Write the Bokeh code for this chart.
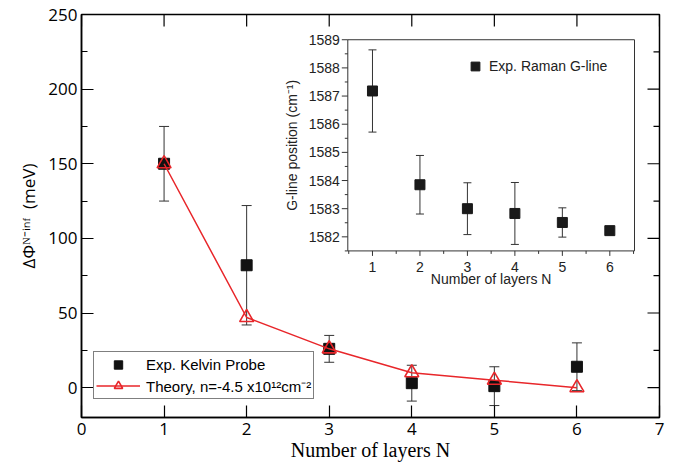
import numpy as np
from bokeh.plotting import figure
from bokeh.models import (ColumnDataSource, Whisker, TeeHead, Legend, LegendItem,
                          FixedTicker, Range1d)
from bokeh.core.properties import value
from bokeh.embed import file_html
from bokeh.resources import INLINE

# ---------------- data ----------------
layers = [1, 2, 3, 4, 5, 6]
kelvin_mev = [150, 82, 26, 3, 1, 14]
kelvin_err = [25, 40, 9, 12, 13, 16]
theory_mev = [150, 47, 26, 10, 5, 0]

raman_layers = [1, 2, 3, 4, 5, 6]
raman_pos = [1587.18, 1583.85, 1583.00, 1582.83, 1582.51, 1582.22]
raman_err = [1.46, 1.04, 0.92, 1.10, 0.52, 0.08]

main_xticks = [0, 1, 2, 3, 4, 5, 6, 7]
main_yticks = [0, 50, 100, 150, 200, 250]
main_yminor = [25, 75, 125, 175, 225]
inset_xticks = [1, 2, 3, 4, 5, 6]
inset_yticks = [1582, 1583, 1584, 1585, 1586, 1587, 1588, 1589]

# ---------------- layout ----------------
X0, X1 = 0, 7
Y0, Y1 = -20, 250
IX0, IX1 = 0.48, 6.52
IY0, IY1 = 1581.5, 1589.0
W, H = 673, 463
FL, FT, FW, FH = 81, 14, 578, 404          # frame position inside canvas

# inset box (canvas pixels): left, right, top, bottom
IL, IR, IT, IB = 347.3, 634.0, 39.3, 251.0
fx0 = (IL - FL) / FW
fx1 = (IR - FL) / FW
fy0 = (FT + FH - IB) / FH
fy1 = (FT + FH - IT) / FH
sx = (IX1 - IX0) / (fx1 - fx0)
sy = (IY1 - IY0) / (fy1 - fy0)
ix_start = IX0 - fx0 * sx
iy_start = IY0 - fy0 * sy
ipx_x = FW / sx   # pixels per inset x unit

RED = "#e8262a"
INK = "#111111"

p = figure(width=W, height=H, x_range=Range1d(X0, X1), y_range=Range1d(Y0, Y1),
           output_backend="svg", toolbar_location=None,
           min_border_left=FL, min_border_top=FT,
           min_border_right=W - FL - FW, min_border_bottom=H - FT - FH)
p.extra_x_ranges = {"ix": Range1d(ix_start, ix_start + sx)}
p.extra_y_ranges = {"iy": Range1d(iy_start, iy_start + sy)}
p.xgrid.visible = False
p.ygrid.visible = False
p.outline_line_color = "black"
p.outline_line_width = 1.5
p.background_fill_color = "white"
p.border_fill_color = "white"

xa = p.xaxis[0]
ya = p.yaxis[0]
xa.ticker = FixedTicker(ticks=main_xticks, minor_ticks=[])
ya.ticker = FixedTicker(ticks=main_yticks, minor_ticks=main_yminor)
for ax in (xa, ya):
    ax.axis_line_width = 1.5
    ax.axis_line_color = "black"
    ax.major_tick_in = 12
    ax.major_tick_out = 0
    ax.minor_tick_in = 6
    ax.minor_tick_out = 0
    ax.major_tick_line_width = 1.2
    ax.minor_tick_line_width = 1.2
    ax.major_tick_line_color = "black"
    ax.minor_tick_line_color = "black"
    ax.major_label_text_font = "Open Sans"
    ax.major_label_text_font_size = "17px"
    ax.major_label_text_color = "black"
    ax.axis_label_text_font_style = "normal"
    ax.axis_label_text_color = "black"
xa.major_label_standoff = 5
ya.major_label_standoff = 4
xa.axis_label = "Number of layers N"
xa.axis_label_text_font = "Liberation Serif"
xa.axis_label_text_font_size = "20px"
xa.axis_label_standoff = 1
ya.axis_label = "ΔΦᴺ⁻ⁱⁿᶠ\u00a0\u00a0(meV)"
ya.axis_label_text_font = "Open Sans"
ya.axis_label_text_font_size = "17px"
ya.axis_label_standoff = 5

# inward ticks on the right and top frame edges
RK = dict(length_units="screen", line_color="black", line_width=1.2)
p.ray(x=[X1] * len(main_yticks), y=main_yticks, length=12, angle=np.pi, **RK)
p.ray(x=[X1] * len(main_yminor), y=main_yminor, length=6, angle=np.pi, **RK)
p.ray(x=main_xticks, y=[Y1] * len(main_xticks), length=12, angle=-np.pi / 2, **RK)

# ---------------- main data ----------------
src_k = ColumnDataSource(dict(
    x=layers, y=kelvin_mev,
    upper=[v + e for v, e in zip(kelvin_mev, kelvin_err)],
    lower=[v - e for v, e in zip(kelvin_mev, kelvin_err)]))
p.add_layout(Whisker(base="x", upper="upper", lower="lower", source=src_k,
                     line_color="#333333", line_width=1,
                     upper_head=TeeHead(size=10, line_color="#333333", line_width=1),
                     lower_head=TeeHead(size=10, line_color="#333333", line_width=1)))
sq = p.scatter("x", "y", source=src_k, marker="square", size=11,
               fill_color=INK, line_color=INK)
th_line = p.line(layers, theory_mev, line_color=RED, line_width=1.5)
th_tri = p.scatter(layers, theory_mev, marker="triangle", size=14,
                   fill_color=None, line_color=RED, line_width=1.6)

legend = Legend(items=[LegendItem(label="Exp. Kelvin Probe", renderers=[sq]),
                       LegendItem(label="Theory, n=-4.5 x10¹²cm⁻²",
                                  renderers=[th_line, th_tri])],
                location=(12, 18), orientation="vertical",
                border_line_color="black", border_line_width=1,
                background_fill_color="white", background_fill_alpha=1.0,
                label_text_font="Liberation Sans", label_text_font_size="15px",
                label_text_color="black",
                glyph_width=44, glyph_height=21, label_height=21,
                spacing=0, padding=2, margin=0, label_standoff=6)
p.add_layout(legend, "center")

# ---------------- inset ----------------
p.quad(left=[IX0], right=[IX1], bottom=[IY0], top=[IY1],
       x_range_name="ix", y_range_name="iy",
       fill_color="white", line_color="#333333", line_width=1, level="underlay")

src_r = ColumnDataSource(dict(
    x=raman_layers, y=raman_pos,
    upper=[v + e for v, e in zip(raman_pos, raman_err)],
    lower=[v - e for v, e in zip(raman_pos, raman_err)]))
p.add_layout(Whisker(base="x", upper="upper", lower="lower", source=src_r,
                     x_range_name="ix", y_range_name="iy",
                     line_color="#333333", line_width=1,
                     upper_head=TeeHead(size=8, line_color="#333333", line_width=1),
                     lower_head=TeeHead(size=8, line_color="#333333", line_width=1)))
isq = p.scatter("x", "y", source=src_r, marker="square", size=10,
                fill_color="#1a1a1a", line_color="#1a1a1a",
                x_range_name="ix", y_range_name="iy")

# inset ticks
iy_minor = [t - 0.5 for t in inset_yticks]
ix_minor = [t - 0.5 for t in inset_xticks] + [inset_xticks[-1] + 0.5]
IK = dict(length_units="screen", line_color="#333333", line_width=1,
          x_range_name="ix", y_range_name="iy")
p.ray(x=[IX0] * len(inset_yticks), y=inset_yticks, length=6, angle=np.pi, **IK)
p.ray(x=[IX0] * len(iy_minor), y=iy_minor, length=3, angle=np.pi, **IK)
p.ray(x=inset_xticks, y=[IY0] * len(inset_xticks), length=5, angle=-np.pi / 2, **IK)
p.ray(x=ix_minor, y=[IY0] * len(ix_minor), length=3, angle=-np.pi / 2, **IK)

TF = value("Liberation Sans")
TK = dict(text_font=TF, text_font_size=value("14px"), text_color="#222222",
          x_range_name="ix", y_range_name="iy")
p.text(x=[IX0] * len(inset_yticks), y=inset_yticks,
       text=[str(t) for t in inset_yticks], x_offset=-8,
       text_align="right", text_baseline="middle", **TK)
p.text(x=inset_xticks, y=[IY0] * len(inset_xticks),
       text=[str(t) for t in inset_xticks], y_offset=16,
       text_align="center", text_baseline="middle", **TK)
p.text(x=[(IX0 + IX1) / 2], y=[IY0], text=["Number of layers N"], y_offset=28,
       text_align="center", text_baseline="middle", **TK)
p.text(x=[IX0 - 56 / ipx_x], y=[(IY0 + IY1) / 2], text=["G-line position (cm⁻¹)"],
       angle=np.pi / 2, text_align="center", text_baseline="middle", **TK)

ileg = Legend(items=[LegendItem(label="Exp. Raman G-line", renderers=[isq])],
              location=(383, 340), border_line_alpha=0, background_fill_alpha=0,
              label_text_font="Liberation Sans", label_text_font_size="14px",
              label_text_color="#222222",
              glyph_width=22, glyph_height=22, label_height=22,
              padding=0, margin=0, spacing=0, label_standoff=3)
p.add_layout(ileg, "center")

open("out.html", "w").write(file_html(p, INLINE))
